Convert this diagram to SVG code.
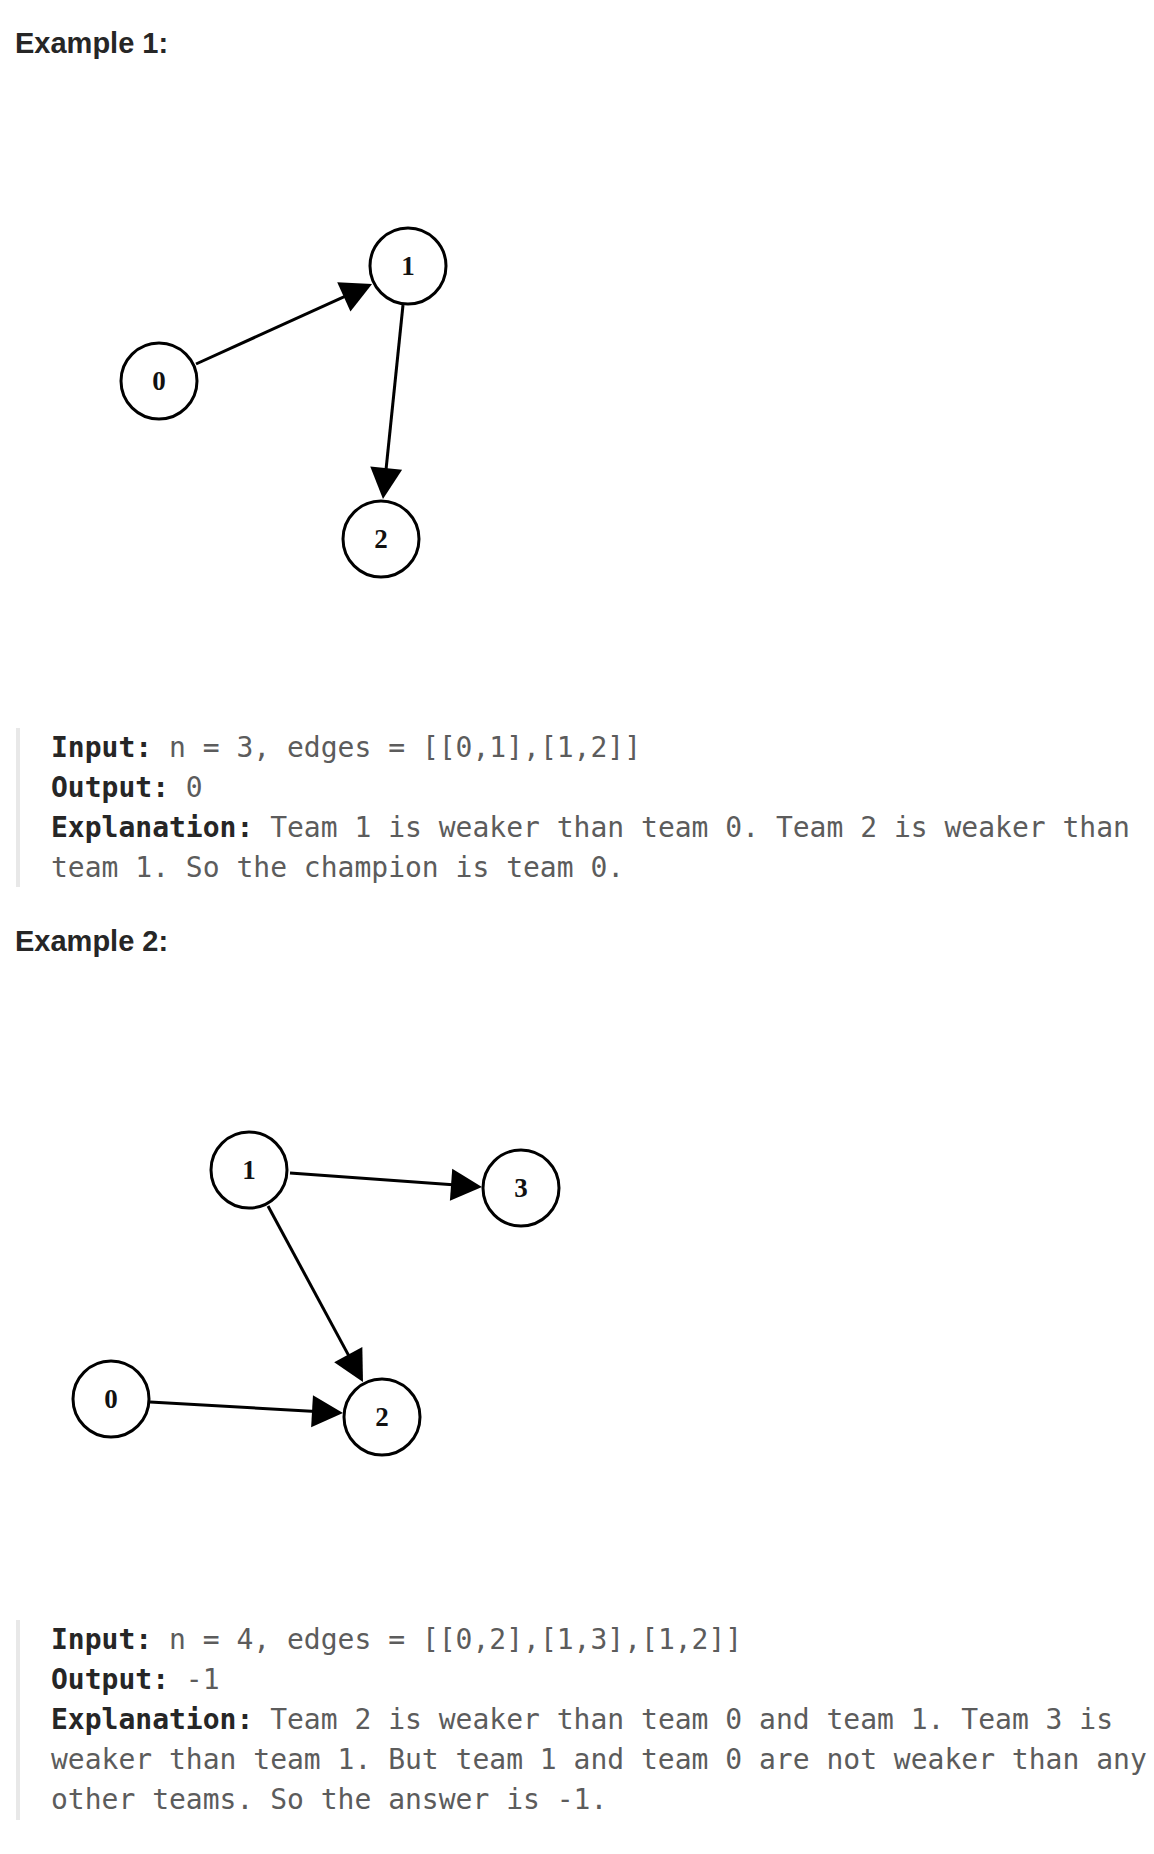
<svg xmlns="http://www.w3.org/2000/svg" width="1154" height="1854" viewBox="0 0 1154 1854">
<style>
.h{font-family:"Liberation Sans",Arial,sans-serif;font-weight:bold;font-size:29px;fill:#262626}
.m{font-family:"DejaVu Sans Mono","Liberation Mono",monospace;font-size:28px;white-space:pre;fill:#5c5c5c}
.b{font-weight:bold;fill:#262626}
.node circle{fill:#fff;stroke:#000;stroke-width:3}
.node text{font-family:"Liberation Serif","Times New Roman",serif;font-weight:bold;font-size:27px;fill:#111;text-anchor:middle}
.edge{stroke:#000;stroke-width:3;fill:none;marker-end:url(#arr)}
.bar{fill:#e8e8e8}
</style>
<defs>
<marker id="arr" markerUnits="userSpaceOnUse" markerWidth="34" markerHeight="34" viewBox="0 -17 32 34" refX="26" refY="0" orient="auto">
<path d="M0,-16 L31,0 L0,16 Z" fill="#000"/>
</marker>
</defs>
<rect width="1154" height="1854" fill="#fff"/>

<text class="h" x="15" y="53">Example 1:</text>

<g id="ex1-edges">
<line class="edge" x1="196" y1="364" x2="367.5" y2="286.1"/>
<line class="edge" x1="403" y1="305" x2="383.5" y2="494"/>
</g>
<g id="ex1-node0" class="node"><circle cx="159" cy="381" r="38"/><text x="159" y="390">0</text></g>
<g id="ex1-node1" class="node"><circle cx="408" cy="266" r="38"/><text x="408" y="275">1</text></g>
<g id="ex1-node2" class="node"><circle cx="381" cy="539" r="38"/><text x="381" y="548">2</text></g>

<rect class="bar" x="16" y="728" width="4" height="159"/>
<text class="m" x="51" y="757"><tspan class="b">Input:</tspan> n = 3, edges = [[0,1],[1,2]]</text>
<text class="m" x="51" y="797"><tspan class="b">Output:</tspan> 0</text>
<text class="m" x="51" y="837"><tspan class="b">Explanation:</tspan> Team 1 is weaker than team 0. Team 2 is weaker than</text>
<text class="m" x="51" y="877">team 1. So the champion is team 0.</text>

<text class="h" x="15" y="951">Example 2:</text>

<g id="ex2-edges">
<line class="edge" x1="290" y1="1173" x2="477" y2="1186.6"/>
<line class="edge" x1="268" y1="1206" x2="360.6" y2="1377.6"/>
<line class="edge" x1="150" y1="1402" x2="338" y2="1412.7"/>
</g>
<g id="ex2-node1" class="node"><circle cx="249" cy="1170" r="38"/><text x="249" y="1179">1</text></g>
<g id="ex2-node3" class="node"><circle cx="521" cy="1188" r="38"/><text x="521" y="1197">3</text></g>
<g id="ex2-node0" class="node"><circle cx="111" cy="1399" r="38"/><text x="111" y="1408">0</text></g>
<g id="ex2-node2" class="node"><circle cx="382" cy="1417" r="38"/><text x="382" y="1426">2</text></g>

<rect class="bar" x="16" y="1620" width="4" height="200"/>
<text class="m" x="51" y="1649"><tspan class="b">Input:</tspan> n = 4, edges = [[0,2],[1,3],[1,2]]</text>
<text class="m" x="51" y="1689"><tspan class="b">Output:</tspan> -1</text>
<text class="m" x="51" y="1729"><tspan class="b">Explanation:</tspan> Team 2 is weaker than team 0 and team 1. Team 3 is</text>
<text class="m" x="51" y="1769">weaker than team 1. But team 1 and team 0 are not weaker than any</text>
<text class="m" x="51" y="1809">other teams. So the answer is -1.</text>
</svg>
